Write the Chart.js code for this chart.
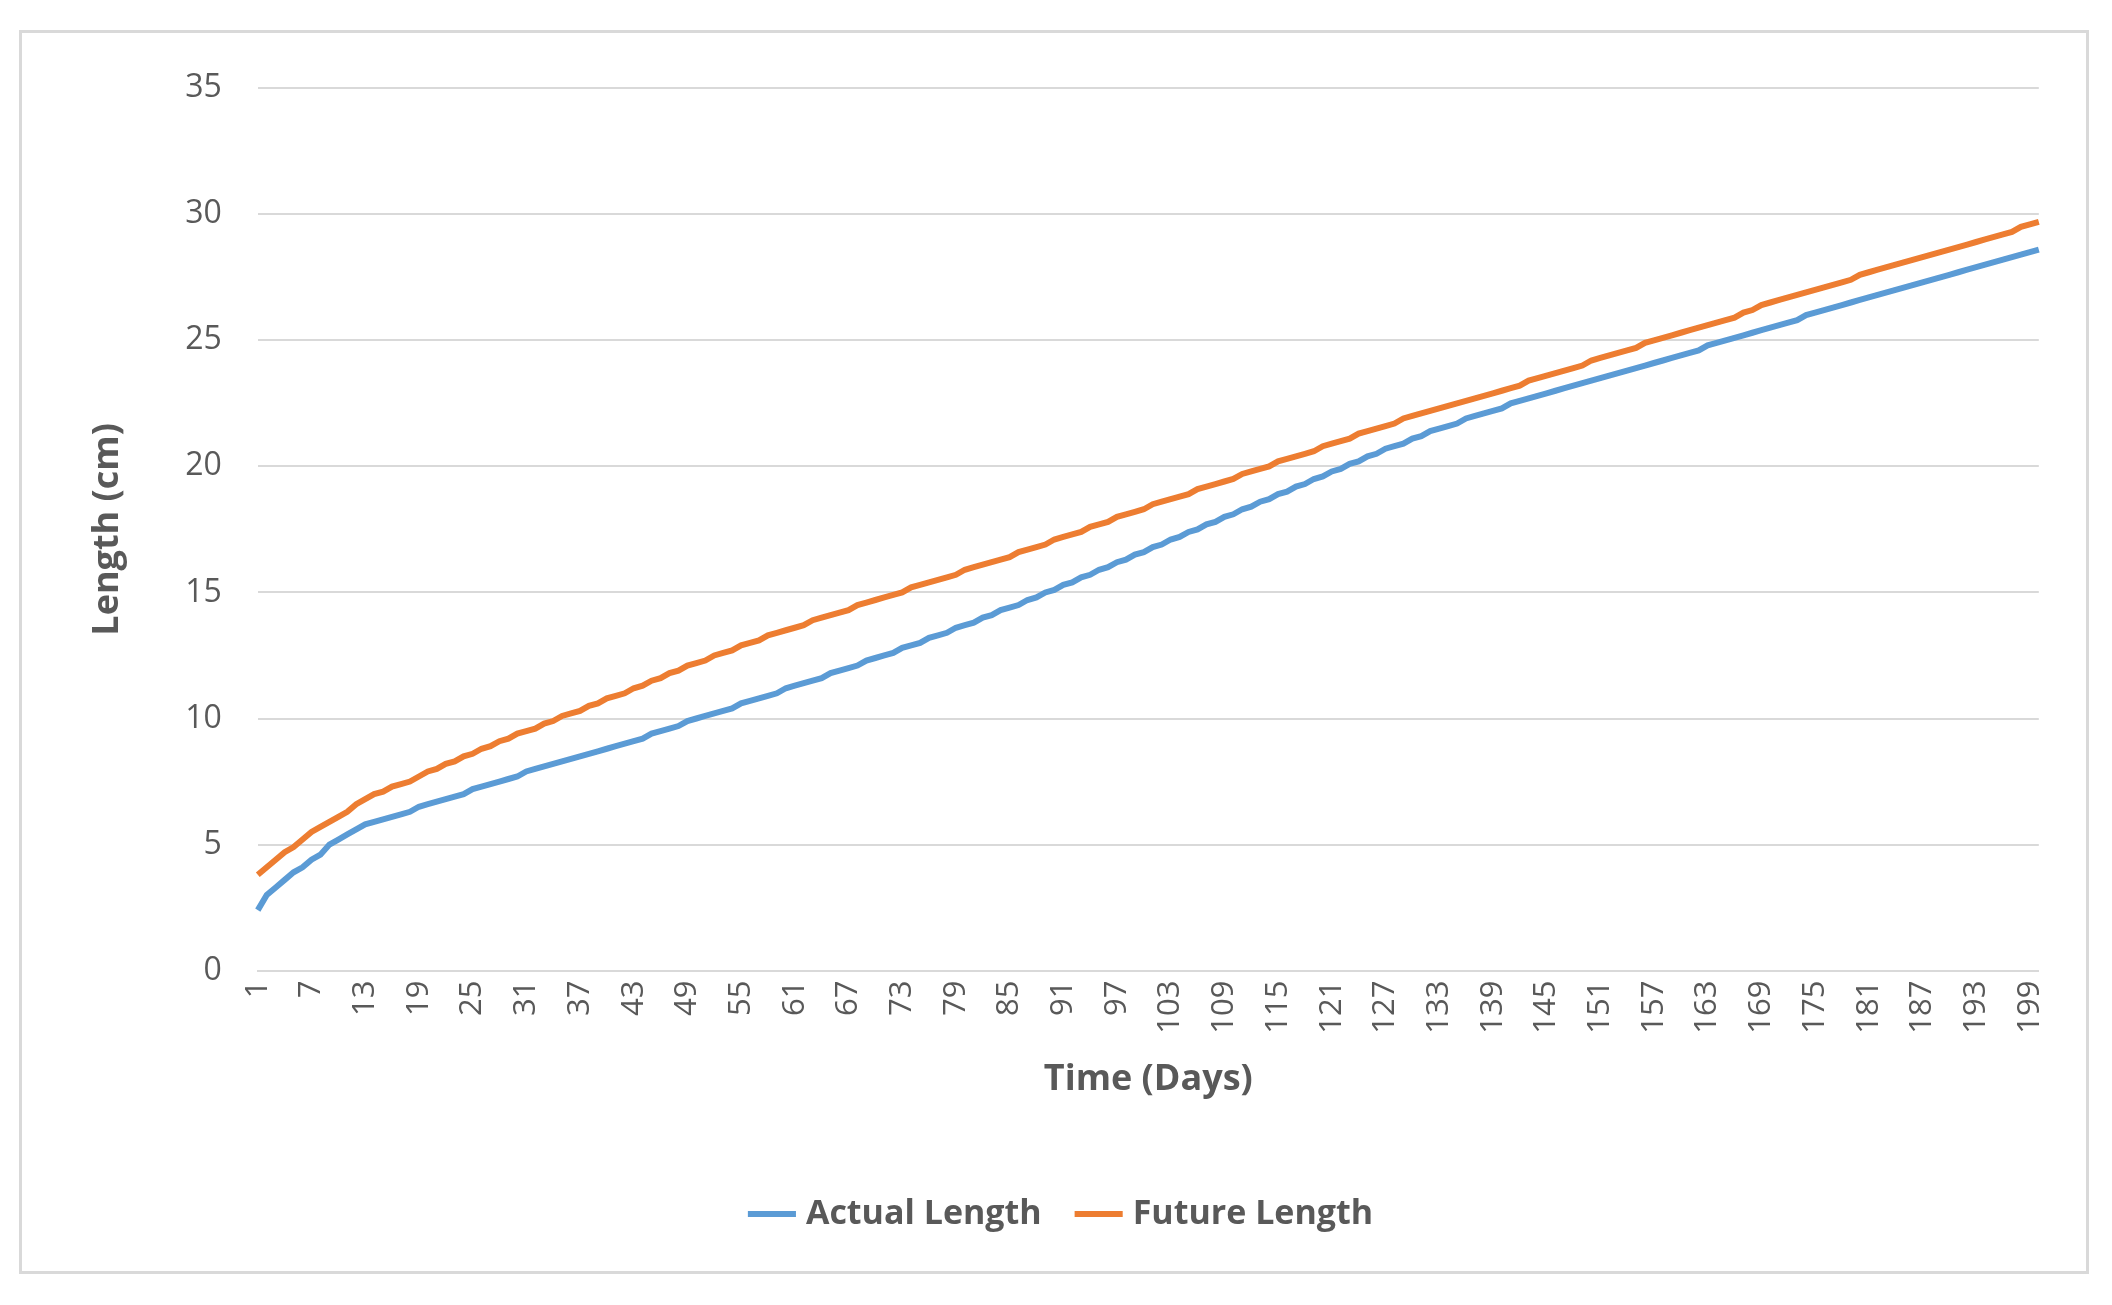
<!DOCTYPE html>
<html><head><meta charset="utf-8">
<script src="https://cdn.jsdelivr.net/npm/chart.js@4/dist/chart.umd.min.js"></script>
<style>
html,body{margin:0;background:#fff;}
#box{position:absolute;left:19px;top:30px;width:2070px;height:1244px;border:3px solid #d9d9d9;box-sizing:border-box;}
</style></head><body>
<div id="box"><canvas id="c"></canvas></div>
<script>
// days 1..200
const days = Array.from({length: 200}, (_, i) => String(i + 1));
const actualLength = [
2.4,3.0,3.3,3.6,3.9,4.1,4.4,4.6,5.0,5.2,5.4,5.6,
5.8,5.9,6.0,6.1,6.2,6.3,6.5,6.6,6.7,6.8,6.9,7.0,
7.2,7.3,7.4,7.5,7.6,7.7,7.9,8.0,8.1,8.2,8.3,8.4,
8.5,8.6,8.7,8.8,8.9,9.0,9.1,9.2,9.4,9.5,9.6,9.7,
9.9,10.0,10.1,10.2,10.3,10.4,10.6,10.7,10.8,10.9,11.0,11.2,
11.3,11.4,11.5,11.6,11.8,11.9,12.0,12.1,12.3,12.4,12.5,12.6,
12.8,12.9,13.0,13.2,13.3,13.4,13.6,13.7,13.8,14.0,14.1,14.3,
14.4,14.5,14.7,14.8,15.0,15.1,15.3,15.4,15.6,15.7,15.9,16.0,
16.2,16.3,16.5,16.6,16.8,16.9,17.1,17.2,17.4,17.5,17.7,17.8,
18.0,18.1,18.3,18.4,18.6,18.7,18.9,19.0,19.2,19.3,19.5,19.6,
19.8,19.9,20.1,20.2,20.4,20.5,20.7,20.8,20.9,21.1,21.2,21.4,
21.5,21.6,21.7,21.9,22.0,22.1,22.2,22.3,22.5,22.6,22.7,22.8,
22.9,23.0,23.1,23.2,23.3,23.4,23.5,23.6,23.7,23.8,23.9,24.0,
24.1,24.2,24.3,24.4,24.5,24.6,24.8,24.9,25.0,25.1,25.2,25.3,
25.4,25.5,25.6,25.7,25.8,26.0,26.1,26.2,26.3,26.4,26.5,26.6,
26.7,26.8,26.9,27.0,27.1,27.2,27.3,27.4,27.5,27.6,27.7,27.8,
27.9,28.0,28.1,28.2,28.3,28.4,28.5,28.6];
const futureLength = [
3.8,4.1,4.4,4.7,4.9,5.2,5.5,5.7,5.9,6.1,6.3,6.6,
6.8,7.0,7.1,7.3,7.4,7.5,7.7,7.9,8.0,8.2,8.3,8.5,
8.6,8.8,8.9,9.1,9.2,9.4,9.5,9.6,9.8,9.9,10.1,10.2,
10.3,10.5,10.6,10.8,10.9,11.0,11.2,11.3,11.5,11.6,11.8,11.9,
12.1,12.2,12.3,12.5,12.6,12.7,12.9,13.0,13.1,13.3,13.4,13.5,
13.6,13.7,13.9,14.0,14.1,14.2,14.3,14.5,14.6,14.7,14.8,14.9,
15.0,15.2,15.3,15.4,15.5,15.6,15.7,15.9,16.0,16.1,16.2,16.3,
16.4,16.6,16.7,16.8,16.9,17.1,17.2,17.3,17.4,17.6,17.7,17.8,
18.0,18.1,18.2,18.3,18.5,18.6,18.7,18.8,18.9,19.1,19.2,19.3,
19.4,19.5,19.7,19.8,19.9,20.0,20.2,20.3,20.4,20.5,20.6,20.8,
20.9,21.0,21.1,21.3,21.4,21.5,21.6,21.7,21.9,22.0,22.1,22.2,
22.3,22.4,22.5,22.6,22.7,22.8,22.9,23.0,23.1,23.2,23.4,23.5,
23.6,23.7,23.8,23.9,24.0,24.2,24.3,24.4,24.5,24.6,24.7,24.9,
25.0,25.1,25.2,25.3,25.4,25.5,25.6,25.7,25.8,25.9,26.1,26.2,
26.4,26.5,26.6,26.7,26.8,26.9,27.0,27.1,27.2,27.3,27.4,27.6,
27.7,27.8,27.9,28.0,28.1,28.2,28.3,28.4,28.5,28.6,28.7,28.8,
28.9,29.0,29.1,29.2,29.3,29.5,29.6,29.7];
const yTicks = [0, 5, 10, 15, 20, 25, 30, 35];

Chart.defaults.font.family = "'Open Sans', 'Noto Sans', sans-serif";
Chart.defaults.color = '#595959';

const box = document.getElementById('box');
const cv = document.getElementById('c');
cv.width = box.clientWidth; cv.height = box.clientHeight;

new Chart(cv.getContext('2d'), {
  type: 'line',
  data: {
    labels: days,
    datasets: [
      { label: 'Actual Length', data: actualLength, borderColor: '#5b9bd5', backgroundColor: '#5b9bd5', borderWidth: 6, pointRadius: 0, tension: 0 },
      { label: 'Future Length', data: futureLength, borderColor: '#ed7d31', backgroundColor: '#ed7d31', borderWidth: 6, pointRadius: 0, tension: 0 }
    ]
  },
  options: {
    responsive: false,
    animation: false,
    layout: { padding: { left: 60, right: 40, top: 26, bottom: 30 } },
    plugins: {
      legend: {
        position: 'bottom',
        labels: {
          usePointStyle: true, pointStyle: 'line', boxWidth: 90, padding: 40,
          font: { size: 34, weight: 'bold' }, color: '#595959'
        }
      },
      tooltip: { enabled: false }
    },
    scales: {
      x: {
        grid: { display: false, drawTicks: false },
        border: { color: '#d9d9d9', width: 2 },
        title: { display: true, text: 'Time (Days)', font: { size: 36, weight: 'bold' }, color: '#595959', padding: { top: 14, bottom: 56 } },
        ticks: {
          autoSkip: false, minRotation: 90, maxRotation: 90, padding: 10,
          font: { size: 31 },
          callback: (v, i) => (i % 6 === 0 ? days[i] : '')
        }
      },
      y: {
        min: 0, max: 35,
        afterBuildTicks: ax => { ax.ticks = yTicks.map(v => ({ value: v })); },
        grid: { color: '#d9d9d9', lineWidth: 2, drawTicks: false },
        border: { display: false },
        title: { display: true, text: 'Length (cm)', font: { size: 36, weight: 'bold' }, color: '#595959', padding: { bottom: 20 } },
        ticks: { font: { size: 32 }, padding: 36 }
      }
    }
  }
});
</script>
</body></html>
